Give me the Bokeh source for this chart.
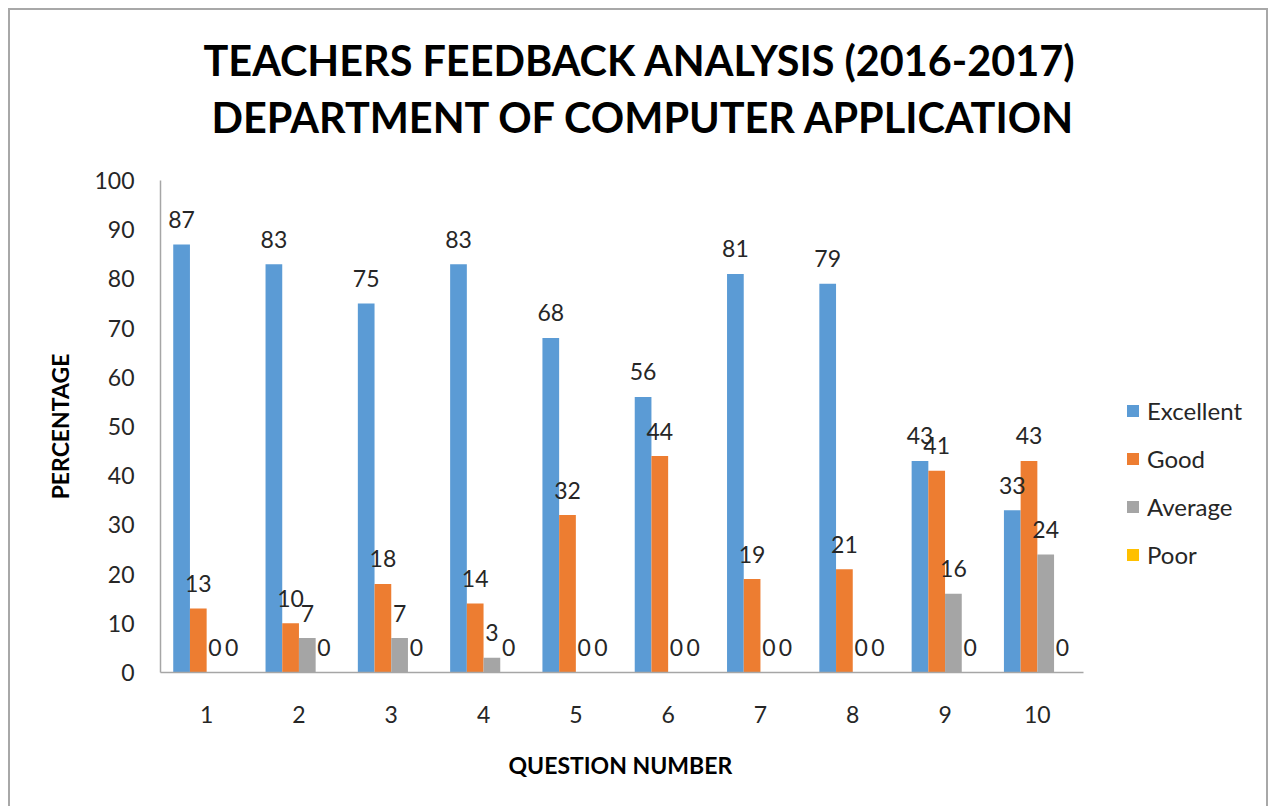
from bokeh.plotting import figure
from bokeh.models import Title, Legend, LegendItem, FixedTicker, SingleIntervalTicker, Range1d
from bokeh.core.properties import value
from bokeh.embed import file_html
from bokeh.resources import INLINE

questions = [1, 2, 3, 4, 5, 6, 7, 8, 9, 10]
excellent = [87, 83, 75, 83, 68, 56, 81, 79, 43, 33]
good = [13, 10, 18, 14, 32, 44, 19, 21, 41, 43]
average = [0, 7, 7, 3, 0, 0, 0, 0, 16, 24]
poor = [0, 0, 0, 0, 0, 0, 0, 0, 0, 0]
series_names = ["Excellent", "Good", "Average", "Poor"]
series_colors = ["#5B9BD5", "#ED7D31", "#A5A5A5", "#FFC000"]
title_lines = ["TEACHERS FEEDBACK ANALYSIS (2016-2017)", "DEPARTMENT OF COMPUTER APPLICATION"]
x_title = "QUESTION NUMBER"
y_title = "PERCENTAGE"

FONT = "Lato"
TXT = "#262626"

W, H = 1260, 798
ML, MR, MT, MB = 150, 8, 170, 136
axis_px = 923.0  # pixel length of the category axis (10 categories)
frame_w = W - ML - MR
x_end = 0.5 + len(questions) * frame_w / axis_px

p = figure(width=W, height=H, x_range=Range1d(0.5, x_end), y_range=Range1d(0, 100),
           output_backend="svg", toolbar_location=None, title=None,
           min_border_left=ML, min_border_right=MR, min_border_top=MT, min_border_bottom=MB,
           styles={"margin-left": "8px", "margin-top": "8px",
                   "border-top": "2px solid #a8a8a8", "border-left": "2px solid #a8a8a8",
                   "border-right": "2px solid #a8a8a8"})

bar_w = 0.181
series = [excellent, good, average, poor]
items = []
xs_all = []
for i, (name, vals, col) in enumerate(zip(series_names, series, series_colors)):
    off = (i - 1.5) * bar_w
    xs = [q + off for q in questions]
    xs_all.append(xs)
    r = p.vbar(x=xs, top=vals, width=bar_w, fill_color=col, line_color=None)
    items.append(LegendItem(label=name, renderers=[r]))
for xs, vals in zip(xs_all, series):
    p.text(x=xs, y=vals, text=[str(v) for v in vals], text_align="center",
           text_baseline="alphabetic", y_offset=-25, text_font=value(FONT),
           text_font_size="23px", text_color=TXT)

legend = Legend(items=items, location=(965, 103), glyph_width=15, glyph_height=15,
                label_text_font=FONT, label_text_font_size="24px", label_text_color=TXT,
                spacing=19, padding=10, label_standoff=7, border_line_color=None,
                background_fill_alpha=0)
p.add_layout(legend)

p.xaxis.ticker = FixedTicker(ticks=questions)
p.xaxis.bounds = (0.5, 10.5)
p.yaxis.ticker = SingleIntervalTicker(interval=10)
for ax in (p.xaxis, p.yaxis):
    ax.major_tick_line_color = None
    ax.minor_tick_line_color = None
    ax.axis_line_color = "#a6a6a6"
    ax.axis_line_width = 1.5
    ax.major_label_text_font = FONT
    ax.major_label_text_font_size = "23px"
    ax.major_label_text_color = TXT
    ax.axis_label_text_font = FONT
    ax.axis_label_text_font_size = "23px"
    ax.axis_label_text_font_style = "bold"
    ax.axis_label_text_color = "#000000"
p.yaxis.axis_label = y_title
p.xaxis.major_label_standoff = 27
p.yaxis.major_label_standoff = 20
p.yaxis.axis_label_standoff = 17

# x-axis title, centred under the 10 categories (below the tick labels)
p.add_layout(Title(text=x_title, align="left", offset=348, vertical_align="top", standoff=50,
                   text_font=FONT, text_font_size="23px", text_font_style="bold",
                   text_color="#000000"), "below")

p.xgrid.visible = False
p.ygrid.visible = False
p.outline_line_color = None

# spacer, then second line, then first line (stacked upward from the plot frame)
p.add_layout(Title(text=" ", text_font_size="10px", standoff=26), "above")
p.add_layout(Title(text=title_lines[1], align="left", offset=51, standoff=0,
                   text_font=FONT, text_font_size="41.4px", text_font_style="bold",
                   text_color="#000000"), "above")
p.add_layout(Title(text=title_lines[0], align="left", offset=43, standoff=10,
                   text_font=FONT, text_font_size="41.4px", text_font_style="bold",
                   text_color="#000000"), "above")

open("out.html", "w").write(file_html(p, INLINE))
